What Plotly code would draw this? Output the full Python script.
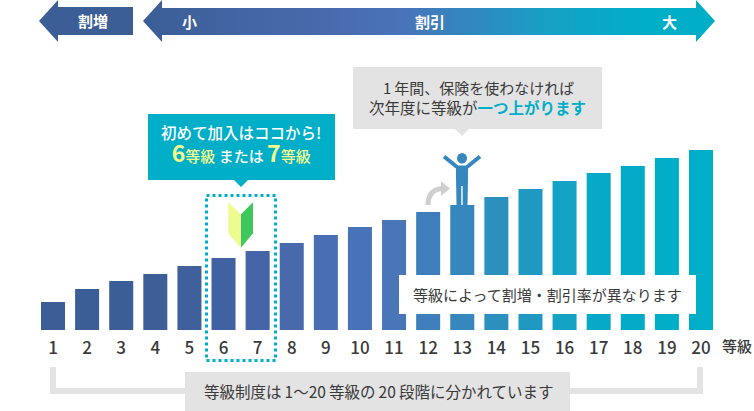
import plotly.graph_objects as go

grades = [str(i) for i in range(1, 21)]
heights = [28, 41, 49, 56, 64, 72, 79, 87, 95, 103, 110, 118, 125, 133, 141, 149, 157, 164, 172, 180]
bar_colors = ["#3b5e96", "#3b5e96", "#3c5e97", "#3d5f98", "#3f609b", "#4162a0", "#4565a6", "#4869ac", "#496eb3", "#4873b8",
              "#4876b9", "#3f7eba", "#3587bd", "#2c90bf", "#1f99c2", "#14a2c5", "#08a9c7", "#04abc8", "#02adc8", "#00aec8"]

FONT = "Noto Sans CJK JP"
TEAL = "#00aec8"
GREY = "#e3e3e3"
DARK = "#3a3a3a"
W, H = 754, 411
BASE = 330

fig = go.Figure()
fig.add_bar(x=grades, y=heights, marker=dict(color=bar_colors, line_width=0), xaxis="x", yaxis="y", showlegend=False)


def arrow_trace(xs, ys, stops):
    fig.add_scatter(x=xs, y=ys, xaxis="x2", yaxis="y2", mode="lines", line=dict(width=0), fill="toself",
                    fillgradient=dict(type="horizontal", colorscale=stops), showlegend=False, hoverinfo="skip")


arrow_trace([39, 58, 58, 133, 133, 58, 58, 39], [21, 0, 7, 7, 35, 35, 42, 21], [[0, "#3b5e96"], [1, "#3b5e96"]])
arrow_trace([143, 162, 162, 696, 696, 715, 696, 696, 162, 162, 143],
            [21, 0, 8, 8, 0, 21, 42, 35, 35, 42, 21],
            [[0, "#3b5e96"], [0.35, "#4a6cb0"], [0.46, "#4874b9"], [0.72, "#14a2c5"], [0.88, "#00aec8"], [1, "#00aec8"]])

shapes = []


def poly(points, color):
    d = "M " + " L ".join(f"{x} {y}" for x, y in points) + " Z"
    shapes.append(dict(type="path", path=d, xref="x2", yref="y2", fillcolor=color, line_width=0, layer="above"))


def stroke(d, color, width, dash=None):
    shapes.append(dict(type="path", path=d, xref="x2", yref="y2", line=dict(color=color, width=width, dash=dash), layer="above"))


# white caption box
poly([(399, 275), (696, 275), (696, 314), (399, 314)], "#ffffff")
# teal callout
poly([(148, 114), (335, 114), (335, 180), (248, 180), (241, 187), (234, 180), (148, 180)], TEAL)
# grey callout
poly([(353, 67), (602, 67), (602, 129), (469, 129), (462, 136), (455, 129), (353, 129)], GREY)
# dotted frame
stroke("M 206.5 195.5 L 275.5 195.5 L 275.5 360.5 L 206.5 360.5 Z", TEAL, 3, "3px,3px")
# beginner mark
poly([(228.3, 202.3), (240.8, 214.3), (240.8, 247.7), (228.3, 233.3)], "#eefc8f")
poly([(253, 202.3), (241, 214.3), (241, 247.7), (253, 233.3)], "#3dc75d")
# bracket
poly([(50, 367), (56, 367), (56, 388), (697, 388), (697, 367), (703, 367), (703, 394), (50, 394)], GREY)
poly([(185, 372), (570, 372), (570, 411), (185, 411)], GREY)
# curved arrow
stroke("M 428 205 Q 428 190 442 188.5", "#cfcfcf", 5)
poly([(441, 181), (450, 188.5), (441, 196)], "#cfcfcf")
# person
PERSON = "#3587bd"
shapes.append(dict(type="circle", x0=457, x1=467, y0=153, y1=163.5, xref="x2", yref="y2", fillcolor=PERSON, line_width=0, layer="above"))
stroke("M 444 156.5 L 457 167", PERSON, 4)
stroke("M 480 156.5 L 467 167", PERSON, 4)
poly([(456, 165.5), (468, 165.5), (468, 177), (467.5, 205), (462.7, 205), (462.7, 186), (461.3, 186), (461.3, 205), (456.5, 205), (456, 177)], PERSON)

fig.update_layout(shapes=shapes)


def label(x, y, text, size=14, color=DARK, weight=400, xanchor="center"):
    fig.add_annotation(x=x, y=y, xref="x2", yref="y2", text=text, showarrow=False, xanchor=xanchor, yanchor="middle",
                       font=dict(family=FONT, size=size, color=color, weight=weight), align="center")


label(93, 20, "割増", 15, "#fff", 700)
label(189, 21, "小", 15, "#fff", 700)
label(430, 21, "割引", 15, "#fff", 700)
label(669, 21, "大", 15, "#fff", 700)
Y = "#f4fb8e"
label(241, 145,
      '<span style="font-size:15.5px">初めて加入はココから!</span><br>'
      f'<span style="color:{Y};font-size:23px"><b>6</b></span><span style="color:{Y};font-size:15px">等級</span>'
      '<span style="font-size:15px"> または </span>'
      f'<span style="color:{Y};font-size:23px"><b>7</b></span><span style="color:{Y};font-size:15px">等級</span>',
      18, "#fff", 500)
label(478, 87, "1\u2009年間、保険を使わなければ", 15)
label(477.5, 107, f'次年度に等級が<span style="color:{TEAL}"><b>一つ上がります</b></span>', 15.5)
label(547.5, 294, "等級によって割増・割引率が異なります", 15)
label(378, 391, "等級制度は\u20091〜20\u2009等級の\u200920\u2009段階に分かれています", 15.5)
label(736.5, 345, "等級", 15, DARK, 500)

fig.update_layout(
    width=W, height=H, margin=dict(l=0, r=0, t=0, b=0, pad=0), autosize=False,
    paper_bgcolor="#fff", plot_bgcolor="rgba(0,0,0,0)", bargap=0.296, showlegend=False,
    xaxis=dict(domain=[35.95 / W, 718.05 / W], type="category", range=[-0.5, 19.5], showgrid=False, zeroline=False,
               showline=False, ticks="outside", ticklen=3, tickcolor="rgba(0,0,0,0)", anchor="y",
               tickfont=dict(family=FONT, size=17, color=DARK, weight=500), fixedrange=True),
    yaxis=dict(domain=[(H - BASE) / H, 1], range=[0, BASE], visible=False, anchor="x", fixedrange=True),
    xaxis2=dict(domain=[0, 1], range=[0, W], visible=False, anchor="y2", fixedrange=True),
    yaxis2=dict(domain=[0, 1], range=[H, 0], visible=False, anchor="x2", fixedrange=True),
)
fig.write_html("out.html", config=dict(displayModeBar=False),
               post_script="document.body.style.margin='0';document.documentElement.style.overflow='hidden';")
